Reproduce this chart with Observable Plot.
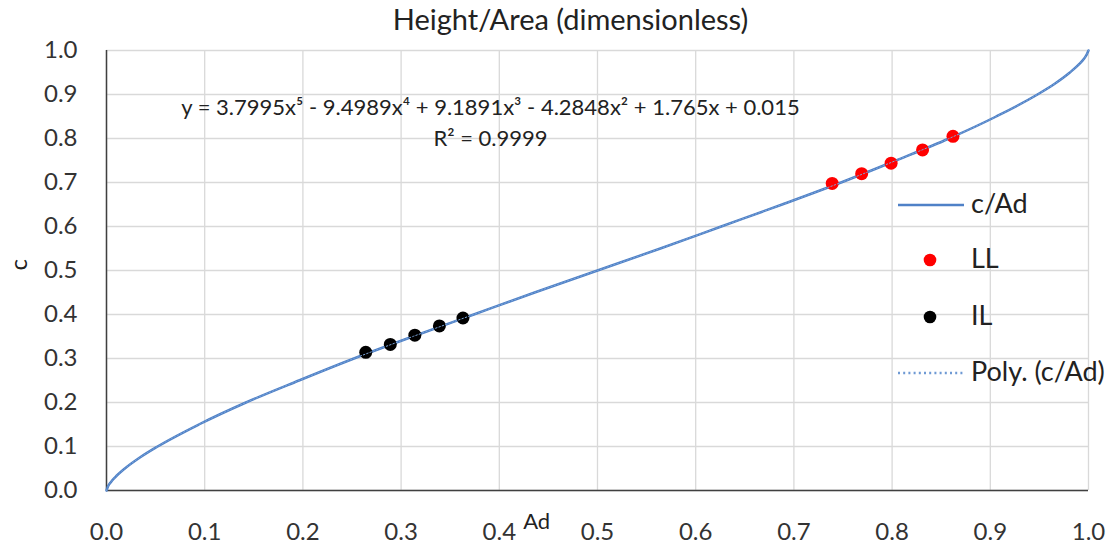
<!DOCTYPE html>
<html><head><meta charset="utf-8">
<script src="https://cdn.jsdelivr.net/npm/d3@7"></script>
<script src="https://cdn.jsdelivr.net/npm/@observablehq/plot@0.6"></script>
<style>
body{margin:0;background:#fff;font-family:Lato,"Open Sans",sans-serif;}
#wrap{position:relative;width:1117px;height:547px;}
.lg{position:absolute;font-size:27px;color:#222;line-height:1;}
</style></head><body>
<div id="wrap"></div>
<script>
// curve c/Ad : [Ad, c]
const curveAd = [0, 0.0017, 0.0048, 0.0088, 0.0187, 0.034, 0.052, 0.094, 0.142, 0.196, 0.252, 0.312, 0.374, 0.436, 0.5, 0.564, 0.626, 0.688, 0.748, 0.804, 0.858, 0.906, 0.948, 0.966, 0.981, 0.991, 0.995, 0.998, 1];
const curveC  = [0, 0.01, 0.02, 0.03, 0.05, 0.075, 0.10, 0.15, 0.20, 0.25, 0.30, 0.35, 0.40, 0.45, 0.50, 0.55, 0.60, 0.65, 0.70, 0.75, 0.80, 0.85, 0.90, 0.925, 0.95, 0.97, 0.98, 0.99, 1];
// LL points (red)
const llAd = [0.739, 0.769, 0.799, 0.831, 0.862];
const llC  = [0.698, 0.720, 0.744, 0.774, 0.805];
// IL points (black)
const ilAd = [0.264, 0.289, 0.314, 0.339, 0.363];
const ilC  = [0.314, 0.332, 0.353, 0.374, 0.392];
const ticks = d3.range(0, 11).map(i => i / 10);
const title = "Height/Area (dimensionless)";
const eq1 = "y = 3.7995x⁵ - 9.4989x⁴ + 9.1891x³ - 4.2848x² + 1.765x + 0.015";
const eq2 = "R² = 0.9999";

const curve = curveAd.map((a, i) => ({x: a, y: curveC[i]}));
const ll = llAd.map((a, i) => ({x: a, y: llC[i]}));
const il = ilAd.map((a, i) => ({x: a, y: ilC[i]}));
const blue = "#4f81c7";

const chart = Plot.plot({
  width: 1117, height: 547,
  marginLeft: 106, marginRight: 29, marginTop: 50, marginBottom: 57,
  style: {fontFamily: "Lato, 'Open Sans', sans-serif", fontSize: "24px", color: "#333", background: "#fff", overflow: "visible"},
  x: {domain: [0, 1], ticks: ticks},
  y: {domain: [0, 1], ticks: ticks},
  marks: [
    Plot.gridX(ticks, {stroke: "#d9d9d9", strokeOpacity: 1, strokeWidth: 1.3}),
    Plot.gridY(ticks, {stroke: "#d9d9d9", strokeOpacity: 1, strokeWidth: 1.3}),
    Plot.ruleX([0], {stroke: "#404040", strokeWidth: 1.5}),
    Plot.ruleY([0], {stroke: "#404040", strokeWidth: 1.5}),
    Plot.axisX(ticks, {tickSize: 0, tickPadding: 32, tickFormat: d3.format(".1f"), fontSize: 24, fill: "#333", label: null}),
    Plot.axisY(ticks, {tickSize: 0, tickPadding: 29, tickFormat: d3.format(".1f"), fontSize: 24, fill: "#333", label: null}),
    Plot.line(curve, {x: "x", y: "y", stroke: blue, strokeWidth: 2.5, curve: "monotone-x"}),
    Plot.dot(ll, {x: "x", y: "y", r: 6.5, fill: "#ff0000"}),
    Plot.dot(il, {x: "x", y: "y", r: 6.5, fill: "#000"}),
    Plot.line(curve, {x: "x", y: "y", stroke: "#7aa3d8", strokeWidth: 1, strokeDasharray: "1.5,2", curve: "monotone-x"}),
    Plot.text([eq1], {x: 0.391, y: 0.869, text: d => d, fontSize: 22, fill: "#222"}),
    Plot.text([eq2], {x: 0.391, y: 0.798, text: d => d, fontSize: 22, fill: "#222"}),
    Plot.text([title], {frameAnchor: "top", dx: -27, dy: -41, text: d => d, fontSize: 29, fill: "#222"}),
    Plot.text(["Ad"], {x: 0.438, frameAnchor: "bottom", dy: 38, text: d => d, fontSize: 22, fill: "#222"}),
    Plot.text(["c"], {frameAnchor: "left", dx: -87, rotate: -90, text: d => d, fontSize: 24, fill: "#222"})
  ]
});
const wrap = document.getElementById("wrap");
wrap.appendChild(chart);

// legend overlay
const legend = [
  {label: "c/Ad", y: 200, kind: "line"},
  {label: "LL", y: 255, kind: "dot", color: "#ff0000"},
  {label: "IL", y: 312, kind: "dot", color: "#000"},
  {label: "Poly. (c/Ad)", y: 368, kind: "dots"}
];
for (const e of legend) {
  const d = document.createElement("div");
  d.className = "lg";
  d.style.left = "898px"; d.style.top = (e.y - 11) + "px";
  d.style.display = "flex"; d.style.alignItems = "center";
  let sym;
  if (e.kind === "line") sym = `<svg width="67" height="22"><line x1="0" x2="66" y1="13" y2="13" stroke="${blue}" stroke-width="2.5"/></svg>`;
  else if (e.kind === "dots") sym = `<svg width="67" height="22"><line x1="0" x2="66" y1="13" y2="13" stroke="#6f9ad4" stroke-width="2.4" stroke-dasharray="2,3.2"/></svg>`;
  else sym = `<svg width="67" height="22"><circle cx="32" cy="13" r="6.3" fill="${e.color}"/></svg>`;
  d.innerHTML = sym + `<span style="margin-left:6px">${e.label}</span>`;
  wrap.appendChild(d);
}
</script>
</body></html>
